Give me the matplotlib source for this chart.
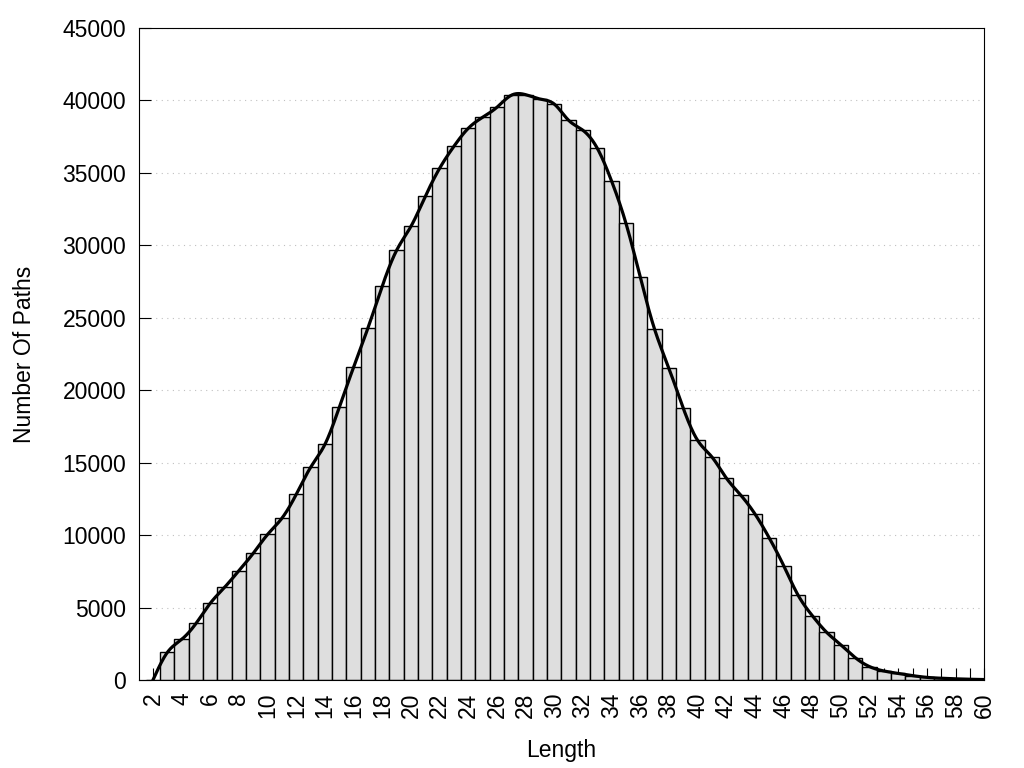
import numpy as np
import matplotlib
matplotlib.use('Agg')
import matplotlib.pyplot as plt

# path length histogram data
lengths = list(range(2, 61))
paths = [0, 1900, 2800, 3900, 5300, 6400, 7550, 8750, 10050, 11170,
         12820, 14680, 16270, 18820, 21600, 24300, 27200, 29660, 31310, 33380,
         35320, 36840, 38080, 38840, 39530, 40360, 40400, 40100, 39750, 38630,
         37940, 36700, 34430, 31520, 27790, 24200, 21510, 18750, 16540, 15390,
         13940, 12770, 11460, 9800, 7900, 5870, 4440, 3290, 2420, 1540,
         920, 620, 450, 300, 180, 120, 80, 50, 30]
y_ticks = list(range(0, 45001, 5000))
x_label_ticks = list(range(2, 61, 2))


def natural_spline(x, y, xs):
    # plain natural cubic spline, like gnuplot's "smooth csplines"
    x = np.asarray(x, float)
    y = np.asarray(y, float)
    n = len(x)
    h = np.diff(x)
    A = np.zeros((n, n))
    rhs = np.zeros(n)
    A[0, 0] = A[-1, -1] = 1
    for i in range(1, n - 1):
        A[i, i - 1] = h[i - 1]
        A[i, i] = 2 * (h[i - 1] + h[i])
        A[i, i + 1] = h[i]
        rhs[i] = 3 * ((y[i + 1] - y[i]) / h[i] - (y[i] - y[i - 1]) / h[i - 1])
    c = np.linalg.solve(A, rhs)
    b = (y[1:] - y[:-1]) / h - h * (2 * c[:-1] + c[1:]) / 3
    d = (c[1:] - c[:-1]) / (3 * h)
    idx = np.clip(np.searchsorted(x, xs) - 1, 0, n - 2)
    dx = xs - x[idx]
    return y[idx] + b[idx] * dx + c[idx] * dx ** 2 + d[idx] * dx ** 3


plt.rcParams['font.family'] = ['Liberation Sans', 'DejaVu Sans']

fig = plt.figure(figsize=(10.24, 7.68), dpi=100)
ax = fig.add_axes([0.1354, 0.1146, 0.8258, 0.8489])

ax.bar(lengths, paths, width=1.0, color='#dedede', edgecolor='black',
       linewidth=1.0, zorder=2)

xs = np.linspace(lengths[0], lengths[-1], 1200)
ax.plot(xs, natural_spline(lengths, paths, xs), color='black',
        linewidth=2.3, zorder=3)

ax.set_xlim(1, 60)
ax.set_ylim(0, 45000)

ax.set_xticks(lengths, minor=True)
ax.set_xticks(x_label_ticks)
ax.set_xticklabels([str(v) for v in x_label_ticks], rotation=90)
ax.set_yticks(y_ticks)
ax.set_yticklabels([str(v) for v in y_ticks])

ax.tick_params(axis='both', which='both', direction='in', length=8.6,
               width=0.8, color='black', labelsize=16.5, pad=9)
ax.tick_params(axis='x', which='minor', length=8.6)
ax.set_axisbelow(True)

ax.yaxis.grid(True, linestyle=(0, (1, 4)), color='#c0c0c0', linewidth=0.8)
ax.xaxis.grid(False)

for s in ax.spines.values():
    s.set_linewidth(0.8)
    s.set_zorder(4)

ax.set_xlabel('Length', fontsize=16.5, labelpad=15)
ax.set_ylabel('Number Of Paths', fontsize=16.5, labelpad=19)

fig.savefig('out.png', dpi=100)
